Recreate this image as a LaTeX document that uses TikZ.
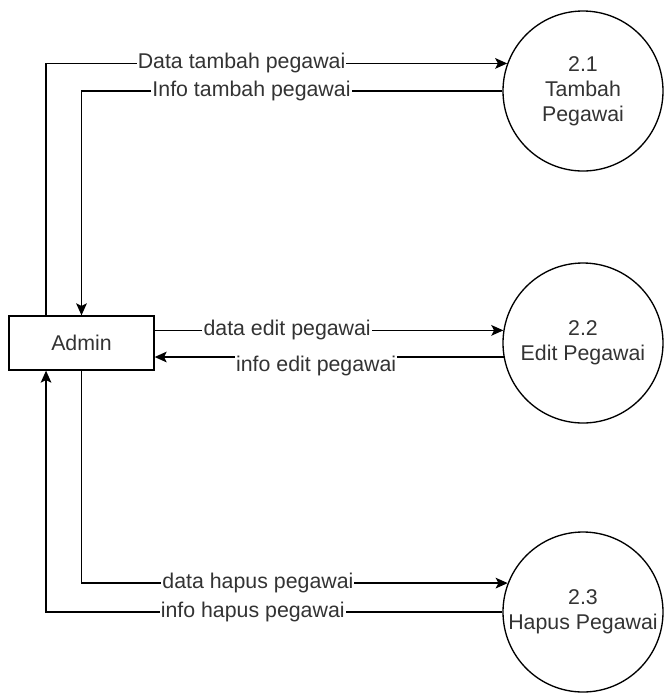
\documentclass[tikz,border=0pt]{standalone}
\usepackage{fontspec}
\setmainfont{Liberation Sans}
\usetikzlibrary{arrows.meta}
\definecolor{txt}{RGB}{51,51,51}
\tikzset{
  every node/.style={font=\fontsize{16}{18.75}\selectfont, text=txt},
  box/.style={draw, line width=1pt, minimum width=108.75pt, minimum height=40.5pt, inner sep=0pt},
  proc/.style={draw, circle, line width=1pt, minimum size=120pt, inner sep=0pt, align=center},
  flow/.style={line width=1.1pt, -{Stealth[length=9pt,width=8pt,inset=2pt]}},
  lbl/.style={fill=white, inner sep=0.8pt}
}
\begin{document}
\begin{tikzpicture}[x=0.75pt, y=-0.75pt]
\useasboundingbox (0,0) rectangle (664,694);
\node[box] (admin) at (81.5,343) {Admin};
\node[proc] (p1) at (583,91) {2.1\\Tambah\\Pegawai};
\node[proc] (p2) at (583,343) {2.2\\Edit Pegawai};
\node[proc] (p3) at (583,612) {2.3\\Hapus Pegawai};

% 2.1
\draw[flow] ([xshift=-26.6pt]admin.north) |- node[lbl, pos=0.712] {Data tambah pegawai} (p1.160);
\draw[flow] (p1.west) -| node[lbl, pos=0.298] {Info tambah pegawai} (admin.north);

% 2.2
\draw[flow] (admin.east |- p2.171) -- node[lbl, pos=0.38] {data edit pegawai} (p2.171);
\draw[flow] (p2.190) -- node[lbl, pos=0.537, yshift=-6.75pt] {info edit pegawai} (admin.east |- p2.190);

% 2.3
\draw[flow] (admin.south) |- node[lbl, pos=0.707] {data hapus pegawai} (p3.159);
\draw[flow] (p3.west) -| node[lbl, pos=0.2735] {info hapus pegawai} ([xshift=-26.6pt]admin.south);
\end{tikzpicture}
\end{document}
